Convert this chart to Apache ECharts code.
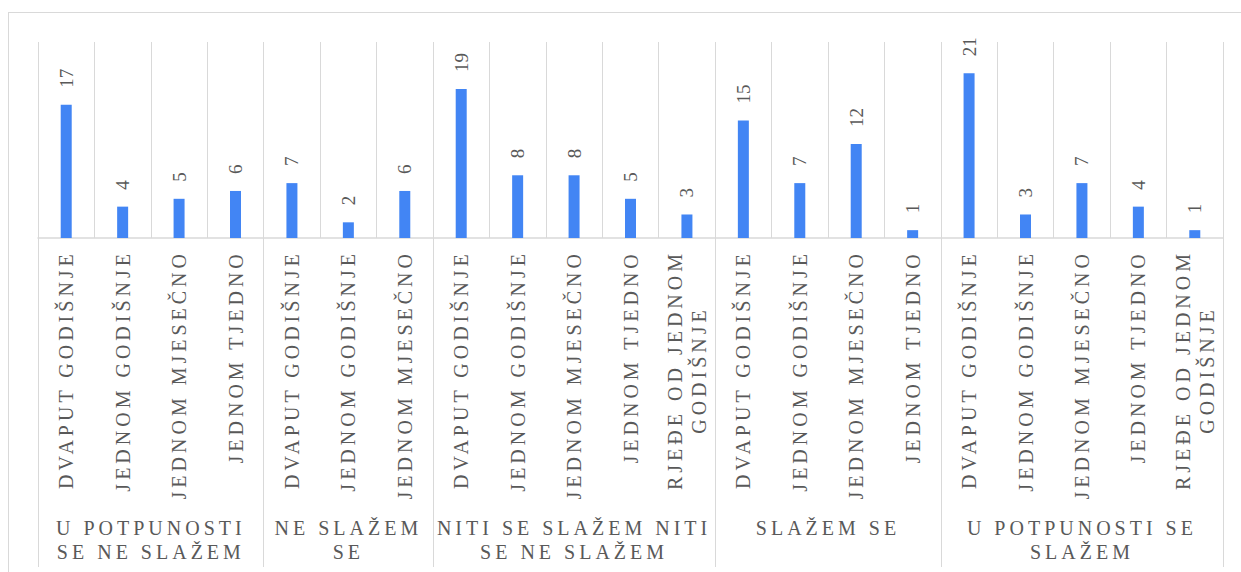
<!DOCTYPE html>
<html><head><meta charset="utf-8">
<script src="https://cdn.jsdelivr.net/npm/echarts@6/dist/echarts.min.js"></script>
<style>
html,body{margin:0;padding:0;background:#fff;overflow:hidden;width:1241px;height:572px;}
#frame{position:absolute;left:8px;top:12px;width:1300px;height:700px;border:1px solid #d9d9d9;box-sizing:border-box;}
#chart{position:absolute;left:0;top:0;width:1241px;height:572px;}
#chart text{font-family:'Liberation Serif','Times New Roman',serif !important;}
#chart text[style*="20px"]{letter-spacing:4px;}
</style></head><body>
<div id="frame"></div>
<div id="chart"></div>
<script>
const groups = ['U POTPUNOSTI\nSE NE SLAŽEM', 'NE SLAŽEM\nSE', 'NITI SE SLAŽEM NITI\nSE NE SLAŽEM', 'SLAŽEM SE', 'U POTPUNOSTI SE\nSLAŽEM'];
const groupSizes = [4, 3, 5, 4, 5];
const categories = [
  'DVAPUT GODIŠNJE', 'JEDNOM GODIŠNJE', 'JEDNOM MJESEČNO', 'JEDNOM TJEDNO',
  'DVAPUT GODIŠNJE', 'JEDNOM GODIŠNJE', 'JEDNOM MJESEČNO',
  'DVAPUT GODIŠNJE', 'JEDNOM GODIŠNJE', 'JEDNOM MJESEČNO', 'JEDNOM TJEDNO', 'RJEĐE OD JEDNOM\nGODIŠNJE',
  'DVAPUT GODIŠNJE', 'JEDNOM GODIŠNJE', 'JEDNOM MJESEČNO', 'JEDNOM TJEDNO',
  'DVAPUT GODIŠNJE', 'JEDNOM GODIŠNJE', 'JEDNOM MJESEČNO', 'JEDNOM TJEDNO', 'RJEĐE OD JEDNOM\nGODIŠNJE'
];
const values = [17, 4, 5, 6, 7, 2, 6, 19, 8, 8, 5, 3, 15, 7, 12, 1, 21, 3, 7, 4, 1];

const FONT = "'Liberation Serif', 'Times New Roman', serif";
const SPACING = 4;
const mctx = document.createElement('canvas').getContext('2d');
if (echarts.setPlatformAPI) {
  echarts.setPlatformAPI({
    measureText: function (text, font) {
      mctx.font = font || '12px sans-serif';
      let w = mctx.measureText(text).width;
      if (font && /(^|\s)20px/.test(font)) w += SPACING * Array.from(text).length;
      return { width: w };
    }
  });
}

const boundaries = [0];
groupSizes.forEach(s => boundaries.push(boundaries[boundaries.length - 1] + s));
const centers = groupSizes.map((s, i) => boundaries[i] + s / 2);
const total = boundaries[boundaries.length - 1];

const chart = echarts.init(document.getElementById('chart'), null, { renderer: 'svg' });
chart.setOption({
  animation: false,
  grid: { left: 38, right: 18, top: 42, bottom: 334, containLabel: false, outerBoundsMode: 'none' },
  xAxis: [{
    type: 'category', data: categories, position: 'bottom',
    axisLine: { lineStyle: { color: '#d9d9d9', width: 1.5 } },
    axisTick: { show: false },
    splitLine: { show: true, interval: 0, lineStyle: { color: '#d9d9d9', width: 1 } },
    axisLabel: {
      interval: 0, rotate: 90, margin: 12, color: '#595959', fontFamily: FONT, fontSize: 20,
      formatter: v => v.split('\n').map(s => '{c|' + s + '}').join('\n'),
      rich: { c: { align: 'center', fontSize: 20, fontFamily: FONT, color: '#595959', lineHeight: 24 } }
    }
  }, {
    type: 'value', min: 0, max: total, position: 'bottom',
    axisLine: { show: false }, splitLine: { show: false },
    axisTick: { show: true, customValues: boundaries, length: 329, lineStyle: { color: '#d9d9d9', width: 1 } },
    axisLabel: {
      customValues: centers, formatter: v => groups[centers.indexOf(v)] || '',
      margin: 278, color: '#595959', fontFamily: FONT, fontSize: 20, lineHeight: 24, align: 'center'
    }
  }],
  yAxis: { type: 'value', min: 0, max: 25, show: false },
  series: [{
    type: 'bar', data: values, xAxisIndex: 0, barWidth: 11,
    itemStyle: { color: '#4285f4' },
    label: {
      show: true, position: 'top', rotate: 90, align: 'left', verticalAlign: 'middle', distance: 17,
      fontSize: 19, fontFamily: FONT, color: '#595959'
    }
  }]
});
</script>
</body></html>
